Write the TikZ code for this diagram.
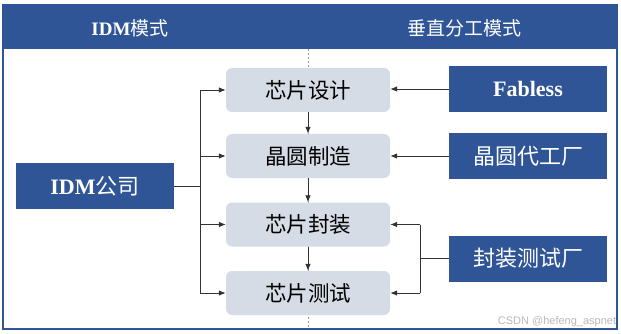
\documentclass[tikz,border=0pt]{standalone}
\usepackage{fontspec}
\setmainfont{Liberation Serif}
\newfontfamily\cjk{Noto Sans CJK SC}
\newfontfamily\wmfont{Liberation Sans}
\usetikzlibrary{arrows.meta}
\definecolor{hdrblue}{HTML}{2F5597}
\definecolor{boxgray}{HTML}{D6DCE5}
\definecolor{linegray}{HTML}{333333}
\begin{document}
\begin{tikzpicture}[x=1pt,y=-1pt,
  bluebox/.style={fill=hdrblue, text=white, minimum width=158pt, minimum height=46pt, inner sep=0pt, font=\fontsize{22}{26}\selectfont},
  graybox/.style={fill=boxgray, rounded corners=6pt, minimum width=164pt, minimum height=44pt, inner sep=0pt, font=\fontsize{21.5}{26}\selectfont\cjk},
  hdrtext/.style={text=white, inner sep=0pt, font=\fontsize{19}{23}\selectfont},
  conn/.style={draw=linegray, line width=0.8pt},
  arr/.style={conn, -{Latex[length=7pt,width=5.5pt]}},
]
\useasboundingbox (0,0) rectangle (621,334);
\fill[white] (0,0) rectangle (621,334);
% frame
\draw[hdrblue, line width=1.3pt] (3,49) -- (3,329) -- (617,329) -- (617,49);
\fill[hdrblue] (2,4) rectangle (618,49);
\node[hdrtext] (h1) at (130,28) {\textbf{IDM}{\cjk 模式}};
\node[hdrtext] (h2) at (464,28) {\cjk 垂直分工模式};
\draw[gray!80, line width=0.6pt, dash pattern=on 2pt off 2pt] (308,49) -- (308,329);
% gray process boxes
\node[graybox] (b1) at (308,90) {芯片设计};
\node[graybox] (b2) at (308,156) {晶圆制造};
\node[graybox] (b3) at (308,224.5) {芯片封装};
\node[graybox] (b4) at (308,293) {芯片测试};
% blue boxes
\node[bluebox] (idm) at (95,186) {\textbf{IDM}{\cjk 公司}};
\node[bluebox] (fab) at (528,89) {\textbf{Fabless}};
\node[bluebox] (fd) at (528,156) {\cjk 晶圆代工厂};
\node[bluebox] (ft) at (528,258.5) {\cjk 封装测试厂};
% watermark
\node[text=gray!55, inner sep=0pt, font=\fontsize{11}{13}\selectfont\wmfont] (wm) at (557,322) {CSDN @hefeng\_aspnet};
% left connectors
\coordinate (lb) at (200,186);
\draw[conn] (idm.east) -- (lb);
\draw[conn] (lb |- b1.west) -- (lb |- b4.west);
\draw[arr] (lb |- b1.west) -- (b1.west);
\draw[arr] (lb |- b2.west) -- (b2.west);
\draw[arr] (lb |- b3.west) -- (b3.west);
\draw[arr] (lb |- b4.west) -- (b4.west);
% vertical arrows
\draw[arr] (b1.south) -- (b2.north);
\draw[arr] (b2.south) -- (b3.north);
\draw[arr] (b3.south) -- (b4.north);
% right connectors
\draw[arr] (fab.west) -- (fab.west -| b1.east);
\draw[arr] (fd.west) -- (b2.east);
\coordinate (rb) at (420,258.5);
\draw[conn] (ft.west) -- (rb);
\draw[conn] (rb |- b3.east) -- (rb |- b4.east);
\draw[arr] (rb |- b3.east) -- (b3.east);
\draw[arr] (rb |- b4.east) -- (b4.east);
\end{tikzpicture}
\end{document}
